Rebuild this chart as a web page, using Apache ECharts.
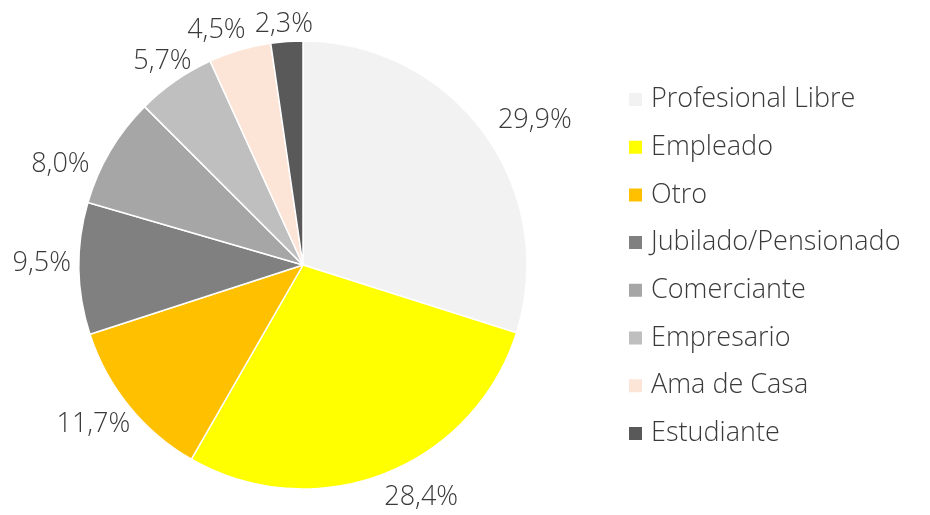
<!DOCTYPE html>
<html>
<head>
<meta charset="utf-8">
<script src="https://cdn.jsdelivr.net/npm/echarts@6/dist/echarts.min.js"></script>
<style>
  html, body { margin: 0; padding: 0; background: #fff; }
  #chart { width: 930px; height: 515px; }
</style>
</head>
<body>
<div id="chart"></div>
<script>
const categories = [
  'Profesional Libre', 'Empleado', 'Otro', 'Jubilado/Pensionado',
  'Comerciante', 'Empresario', 'Ama de Casa', 'Estudiante'
];
const values = [29.9, 28.4, 11.7, 9.5, 8.0, 5.7, 4.5, 2.3];
const colors = ['#f2f2f2', '#ffff00', '#ffc000', '#808080', '#a6a6a6', '#bfbfbf', '#fce4d6', '#595959'];

const CX = 303, CY = 265, R = 224;
const font = "'Open Sans', sans-serif";
// small hand nudges for labels that the original placed off the mid-angle
const labelNudge = { 0: [6, 3], 1: [0, 4], 2: [9, 2], 3: [2, -6], 4: [-12, 28], 5: [22, -1], 7: [3, 3] };

const total = values.reduce((a, b) => a + b, 0);
function midAngle(i) {
  let acc = 0;
  for (let k = 0; k < i; k++) acc += values[k];
  return (acc + values[i] / 2) / total * Math.PI * 2;
}
const clamp = (v) => Math.max(-1, Math.min(1, v));

const chart = echarts.init(document.getElementById('chart'));

chart.setOption({
  animation: false,
  color: colors,
  legend: {
    orient: 'vertical',
    left: 627,
    top: 86,
    padding: 0,
    itemWidth: 15,
    itemHeight: 15,
    itemGap: 20.7,
    icon: 'rect',
    data: categories,
    textStyle: {
      fontFamily: font,
      fontWeight: 300,
      fontSize: 27,
      lineHeight: 27,
      color: '#3a3a3a',
      padding: [0, 0, 0, 3]
    }
  },
  series: [
    {
      type: 'pie',
      center: [CX, CY],
      radius: R,
      startAngle: 90,
      clockwise: true,
      avoidLabelOverlap: false,
      data: categories.map((name, i) => ({ name, value: values[i] })),
      itemStyle: { borderColor: '#fff', borderWidth: 1.5 },
      label: {
        show: true,
        position: 'outside',
        formatter: (p) => p.value.toFixed(1).replace('.', ',') + '%',
        fontFamily: font,
        fontWeight: 300,
        fontSize: 27,
        color: '#3a3a3a'
      },
      labelLine: { show: false, length: 10, length2: 0 },
      labelLayout: function (params) {
        const i = params.dataIndex;
        const a = midAngle(i);
        const ux = Math.sin(a), uy = -Math.cos(a);
        const w = params.labelRect.width, h = 20;
        const d = R + 10;
        const n = labelNudge[i] || [0, 0];
        return {
          x: CX + ux * d + clamp(ux * 2.5) * w / 2 + n[0],
          y: CY + uy * d + clamp(uy * 2.5) * h / 2 + n[1],
          align: 'center',
          verticalAlign: 'middle'
        };
      },
      emphasis: { disabled: true }
    }
  ]
});
</script>
</body>
</html>
